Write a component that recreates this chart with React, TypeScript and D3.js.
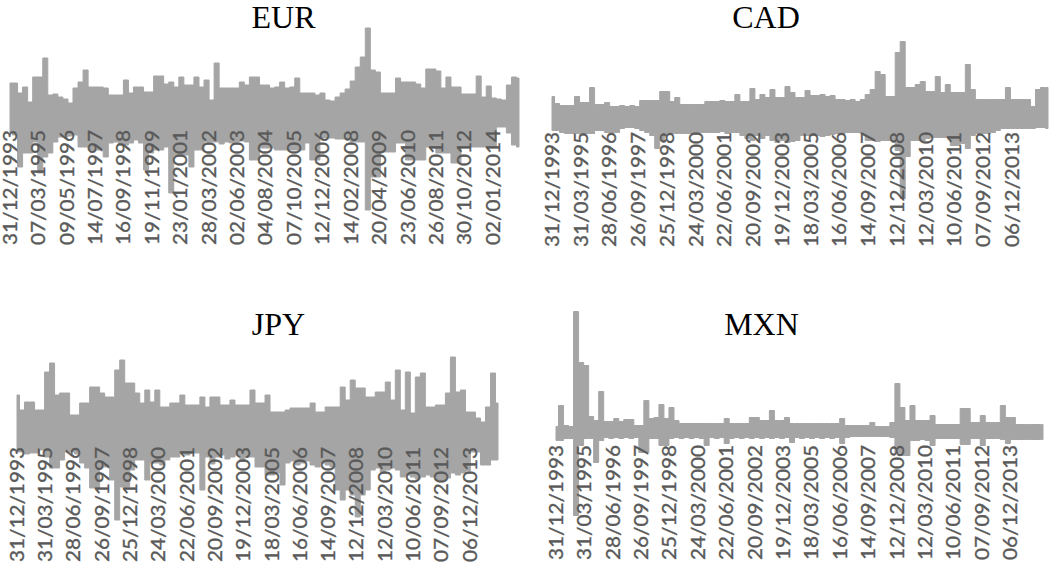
import React from 'react';
import * as d3 from 'd3';

// Tick labels (category dates)
const eurDates = ['31/12/1993','07/03/1995','09/05/1996','14/07/1997','16/09/1998','19/11/1999','23/01/2001','28/03/2002','02/06/2003','04/08/2004','07/10/2005','12/12/2006','14/02/2008','20/04/2009','23/06/2010','26/08/2011','30/10/2012','02/01/2014'];
const otherDates = ['31/12/1993','31/03/1995','28/06/1996','26/09/1997','25/12/1998','24/03/2000','22/06/2001','20/09/2002','19/12/2003','18/03/2005','16/06/2006','14/09/2007','12/12/2008','12/03/2010','10/06/2011','07/09/2012','06/12/2013'];

// Upper / lower swings of the daily series
const eurHigh = [3.4,3.4,2.4,3.0,1.5,4.0,4.0,5.9,2.2,2.3, 2.0,1.8,1.4,2.9,3.5,4.7,3.0,3.0,3.0,2.9, 2.2,2.2,2.2,3.7,2.4,3.0,3.0,2.5,2.5,4.1, 4.1,3.3,3.5,3.0,4.0,3.2,3.2,4.0,3.0,3.7, 1.7,5.4,2.9,2.9,2.9,2.9,3.5,3.2,4.0,4.0, 3.2,3.2,2.9,3.0,3.5,2.9,3.0,3.9,2.4,2.4, 2.4,2.2,2.4,1.7,1.6,2.0,2.4,2.8,3.6,5.0, 6.0,8.9,4.7,4.5,2.4,2.4,2.4,3.9,3.5,3.5, 3.5,3.3,2.9,4.8,4.8,4.6,2.9,4.0,3.0,3.0, 2.3,2.3,2.3,4.1,2.0,3.1,1.9,1.8,1.7,3.2, 4.0,3.9];
const eurLow = [-1.5,-1.8,-5.0,-3.6,-3.6,-2.5,-5.6,-4.0,-3.6,-2.5, -2.0,-2.0,-1.9,-1.8,-3.0,-3.0,-3.3,-3.3,-3.3,-4.0, -2.6,-2.5,-2.8,-2.8,-2.6,-2.3,-2.6,-5.3,-3.6,-3.3, -3.3,-3.0,-7.6,-3.8,-3.8,-3.8,-5.0,-3.3,-3.3,-2.5, -2.5,-2.5,-2.7,-2.5,-2.6,-2.5,-2.4,-2.5,-4.3,-4.3, -3.1,-3.1,-3.1,-3.3,-3.3,-3.3,-3.3,-3.3,-3.3,-2.6, -4.3,-4.3,-2.1,-2.1,-2.1,-2.2,-2.2,-2.2,-2.5,-2.5, -2.5,-9.3,-6.0,-6.0,-3.5,-3.5,-3.5,-2.6,-2.6,-4.3, -4.3,-4.3,-4.3,-3.0,-3.0,-3.6,-3.6,-3.6,-4.6,-4.6, -3.0,-3.0,-3.0,-3.0,-3.0,-3.0,-3.0,-1.0,-1.0,-1.6, -2.8,-3.0];

const cadHigh = [2.0,1.3,1.1,1.1,1.1,2.0,1.4,1.4,2.9,1.2, 1.2,1.4,1.0,1.0,1.1,1.0,1.1,1.0,1.6,1.6, 1.6,1.6,2.5,2.5,1.5,1.9,1.2,1.2,1.2,1.2, 1.2,1.5,1.5,1.5,1.6,1.5,1.5,2.2,1.5,1.5, 2.8,1.7,2.2,1.9,2.7,1.9,1.9,3.0,2.4,1.9, 1.9,2.6,2.1,2.1,2.2,2.0,2.1,1.7,1.7,1.6, 1.7,1.5,1.7,2.2,2.7,4.5,4.2,2.0,2.0,6.4, 7.5,2.9,2.9,3.2,3.5,2.5,2.5,4.0,2.4,3.2, 2.4,2.4,2.4,5.2,2.7,1.7,1.7,1.7,1.7,1.7, 1.7,2.9,1.7,1.7,1.7,1.7,1.0,2.7,2.9,2.9];
const cadLow = [-1.4,-1.4,-1.6,-1.7,-1.7,-1.7,-1.8,-1.7,-1.7,-1.4, -1.4,-1.6,-1.6,-1.6,-1.2,-1.1,-1.1,-1.2,-1.4,-1.6, -1.9,-3.2,-2.4,-1.8,-1.7,-1.7,-1.7,-1.7,-1.7,-1.7, -1.6,-1.6,-1.6,-1.6,-1.5,-1.7,-1.6,-1.6,-1.9,-2.2, -2.4,-1.9,-2.2,-1.9,-2.4,-2.6,-2.4,-2.6,-2.5,-2.4, -1.9,-1.9,-1.9,-1.9,-2.0,-1.9,-1.8,-1.7,-1.7,-1.6, -1.6,-1.6,-1.7,-2.4,-2.4,-2.5,-2.4,-2.4,-2.4,-3.4, -8.2,-4.0,-2.4,-2.4,-2.4,-2.2,-2.1,-2.1,-2.1,-2.1, -2.9,-2.9,-2.7,-3.2,-1.9,-1.7,-1.7,-1.7,-1.6,-1.4, -1.2,-1.2,-1.2,-1.2,-1.2,-1.2,-1.2,-1.1,-1.1,-1.2];

const jpyHigh = [3.6,2.1,2.9,2.9,2.1,2.1,5.9,6.8,3.6,3.8, 3.8,1.6,1.6,2.8,2.8,4.4,4.4,3.8,3.4,3.4, 6.1,7.1,4.8,4.8,3.8,2.8,4.1,2.9,4.1,2.4, 2.4,2.8,2.8,3.6,2.6,2.6,2.6,3.4,2.4,3.4, 3.4,2.6,2.6,3.1,2.6,2.6,2.6,4.1,2.8,2.8, 3.6,1.9,1.9,1.9,2.1,2.3,2.3,2.3,2.3,2.8, 1.9,1.9,2.4,2.4,2.4,4.4,3.1,5.1,4.3,4.3, 3.4,3.4,3.9,3.9,4.9,3.1,6.1,2.1,5.9,1.8, 5.4,5.8,2.4,2.4,2.6,2.6,3.8,7.4,3.9,4.1, 1.9,1.9,1.3,0.9,2.4,5.8,2.8];
const jpyLow = [-2.1,-2.1,-2.3,-2.2,-2.2,-1.9,-2.6,-3.7,-3.7,-2.9, -2.1,-2.1,-2.3,-3.2,-3.7,-5.7,-5.7,-3.6,-3.6,-4.9, -8.9,-5.6,-5.6,-3.9,-2.9,-2.9,-4.9,-3.2,-3.2,-3.4, -2.9,-2.6,-2.6,-2.2,-2.4,-2.2,-2.2,-5.9,-2.6,-3.3, -2.6,-2.4,-2.8,-2.6,-2.4,-3.0,-2.6,-2.6,-3.6,-3.6, -4.4,-4.4,-4.2,-5.4,-3.2,-3.0,-3.4,-3.2,-3.0,-3.4, -3.6,-3.2,-3.4,-3.6,-5.9,-6.9,-5.9,-6.4,-8.6,-6.4, -5.9,-3.9,-3.7,-4.1,-3.9,-3.7,-3.9,-4.6,-4.4,-4.6, -4.8,-4.6,-4.4,-4.6,-4.9,-4.9,-4.7,-4.2,-4.4,-4.2, -4.0,-2.1,-2.1,-3.4,-3.4,-2.9,-2.9];

const mxnHigh = [0.4,2.5,0.5,0.4,11.9,6.8,6.5,1.4,1.0,3.9, 0.9,0.9,1.2,0.9,1.1,1.1,0.5,0.5,3.0,1.2, 1.3,2.6,1.2,2.3,1.0,0.7,0.7,0.7,0.7,0.7, 0.7,0.7,0.7,0.7,1.2,0.7,0.7,0.7,0.7,1.3, 1.3,1.0,1.0,2.0,1.0,1.0,1.3,0.7,0.7,0.7, 0.7,0.7,0.7,0.7,0.7,0.7,0.7,1.2,0.5,0.5, 0.5,0.5,0.5,0.8,0.4,0.4,0.4,0.8,4.7,2.3, 1.0,2.5,1.0,1.0,1.0,1.5,0.6,0.6,0.6,0.6, 0.6,2.2,2.2,0.8,0.8,1.5,0.8,0.8,0.8,2.5, 1.3,1.3,0.6,0.6,0.6,0.6,0.6,0.6];
const mxnLow = [-1.0,-1.0,-0.8,-0.8,-8.5,-1.5,-0.8,-0.8,-3.2,-1.0, -0.7,-0.8,-0.7,-0.8,-0.7,-0.8,-0.7,-2.2,-2.2,-0.8, -0.8,-1.5,-1.5,-0.8,-0.7,-0.8,-0.7,-0.8,-0.7,-0.8, -1.5,-0.7,-0.8,-0.7,-1.3,-0.8,-0.7,-0.8,-0.7,-0.8, -0.7,-0.8,-0.7,-0.8,-0.7,-0.8,-0.7,-1.2,-0.7,-0.8, -0.7,-0.8,-0.7,-0.8,-0.7,-0.8,-0.7,-1.3,-0.7,-0.6, -0.6,-0.6,-0.6,-0.6,-0.6,-0.6,-0.6,-0.7,-2.2,-2.5, -2.5,-1.0,-1.0,-0.9,-1.0,-1.5,-0.8,-0.8,-0.8,-0.8, -0.8,-1.4,-1.4,-0.8,-0.8,-1.5,-0.8,-0.8,-0.8,-0.9, -1.3,-0.9,-0.9,-0.9,-0.9,-0.9,-0.9,-0.9];

const W = 1052;
const H = 567;
const SERIES_COLOR = '#a5a5a5';

type Panel = {
  title: string; high: number[]; low: number[]; dates: string[];
  obs: number; tickEvery: number;
  x0: number; x1: number; center: number;
  titleX: number; titleY: number; labelTop: number;
};

const panels: Panel[] = [
  { title: 'EUR', high: eurHigh, low: eurLow, dates: eurDates, obs: 5520, tickEvery: 308, x0: 10, x1: 519, center: 117, titleX: 283.5, titleY: 28, labelTop: 130 },
  { title: 'CAD', high: cadHigh, low: cadLow, dates: otherDates, obs: 5608, tickEvery: 325, x0: 552, x1: 1048, center: 116.5, titleX: 766, titleY: 28, labelTop: 132 },
  { title: 'JPY', high: jpyHigh, low: jpyLow, dates: otherDates, obs: 5525, tickEvery: 325, x0: 17, x1: 498, center: 431, titleX: 278.5, titleY: 335, labelTop: 447 },
  { title: 'MXN', high: mxnHigh, low: mxnLow, dates: otherDates, obs: 5574, tickEvery: 325, x0: 556, x1: 1043, center: 430.5, titleX: 761.5, titleY: 335, labelTop: 445 },
];

export default function App() {
  return (
    <svg width={W} height={H} style={{ position: 'absolute', left: 0, top: 0, background: '#ffffff' }}>
      <rect x={0} y={0} width={W} height={H} fill="#ffffff" />
      {panels.map((p) => {
        const n = p.high.length;
        const x = d3.scaleLinear().domain([0, p.obs - 1]).range([p.x0, p.x1]);
        const y = d3.scaleLinear().domain([-10, 10]).range([p.center + 100, p.center - 100]);
        const step = (p.obs - 1) / (n - 1);
        const idx = d3.range(n);
        const area = d3
          .area<number>()
          .curve(d3.curveStep)
          .x((i) => x(i * step))
          .y0((i) => y(p.low[i]))
          .y1((i) => y(p.high[i]));
        return (
          <g key={p.title}>
            <path d={area(idx) || ''} fill={SERIES_COLOR} stroke={SERIES_COLOR} strokeWidth={1} strokeLinejoin="round" />
            {p.dates.map((d, k) => {
              const tx = x(k * p.tickEvery);
              return (
                <text
                  key={d + k}
                  transform={`translate(${tx},${p.labelTop}) rotate(-90)`}
                  textAnchor="end"
                  dy="0.36em"
                  textLength={115}
                  lengthAdjust="spacingAndGlyphs"
                  fontFamily="Lato, 'Open Sans', sans-serif"
                  fontSize={19}
                  fill="#595959"
                  stroke="#595959"
                  strokeWidth={0.35}
                >
                  {d}
                </text>
              );
            })}
            <text x={p.titleX} y={p.titleY} textAnchor="middle" fontFamily="'Liberation Serif', 'Times New Roman', serif" fontSize={32} fill="#000000">
              {p.title}
            </text>
          </g>
        );
      })}
    </svg>
  );
}
